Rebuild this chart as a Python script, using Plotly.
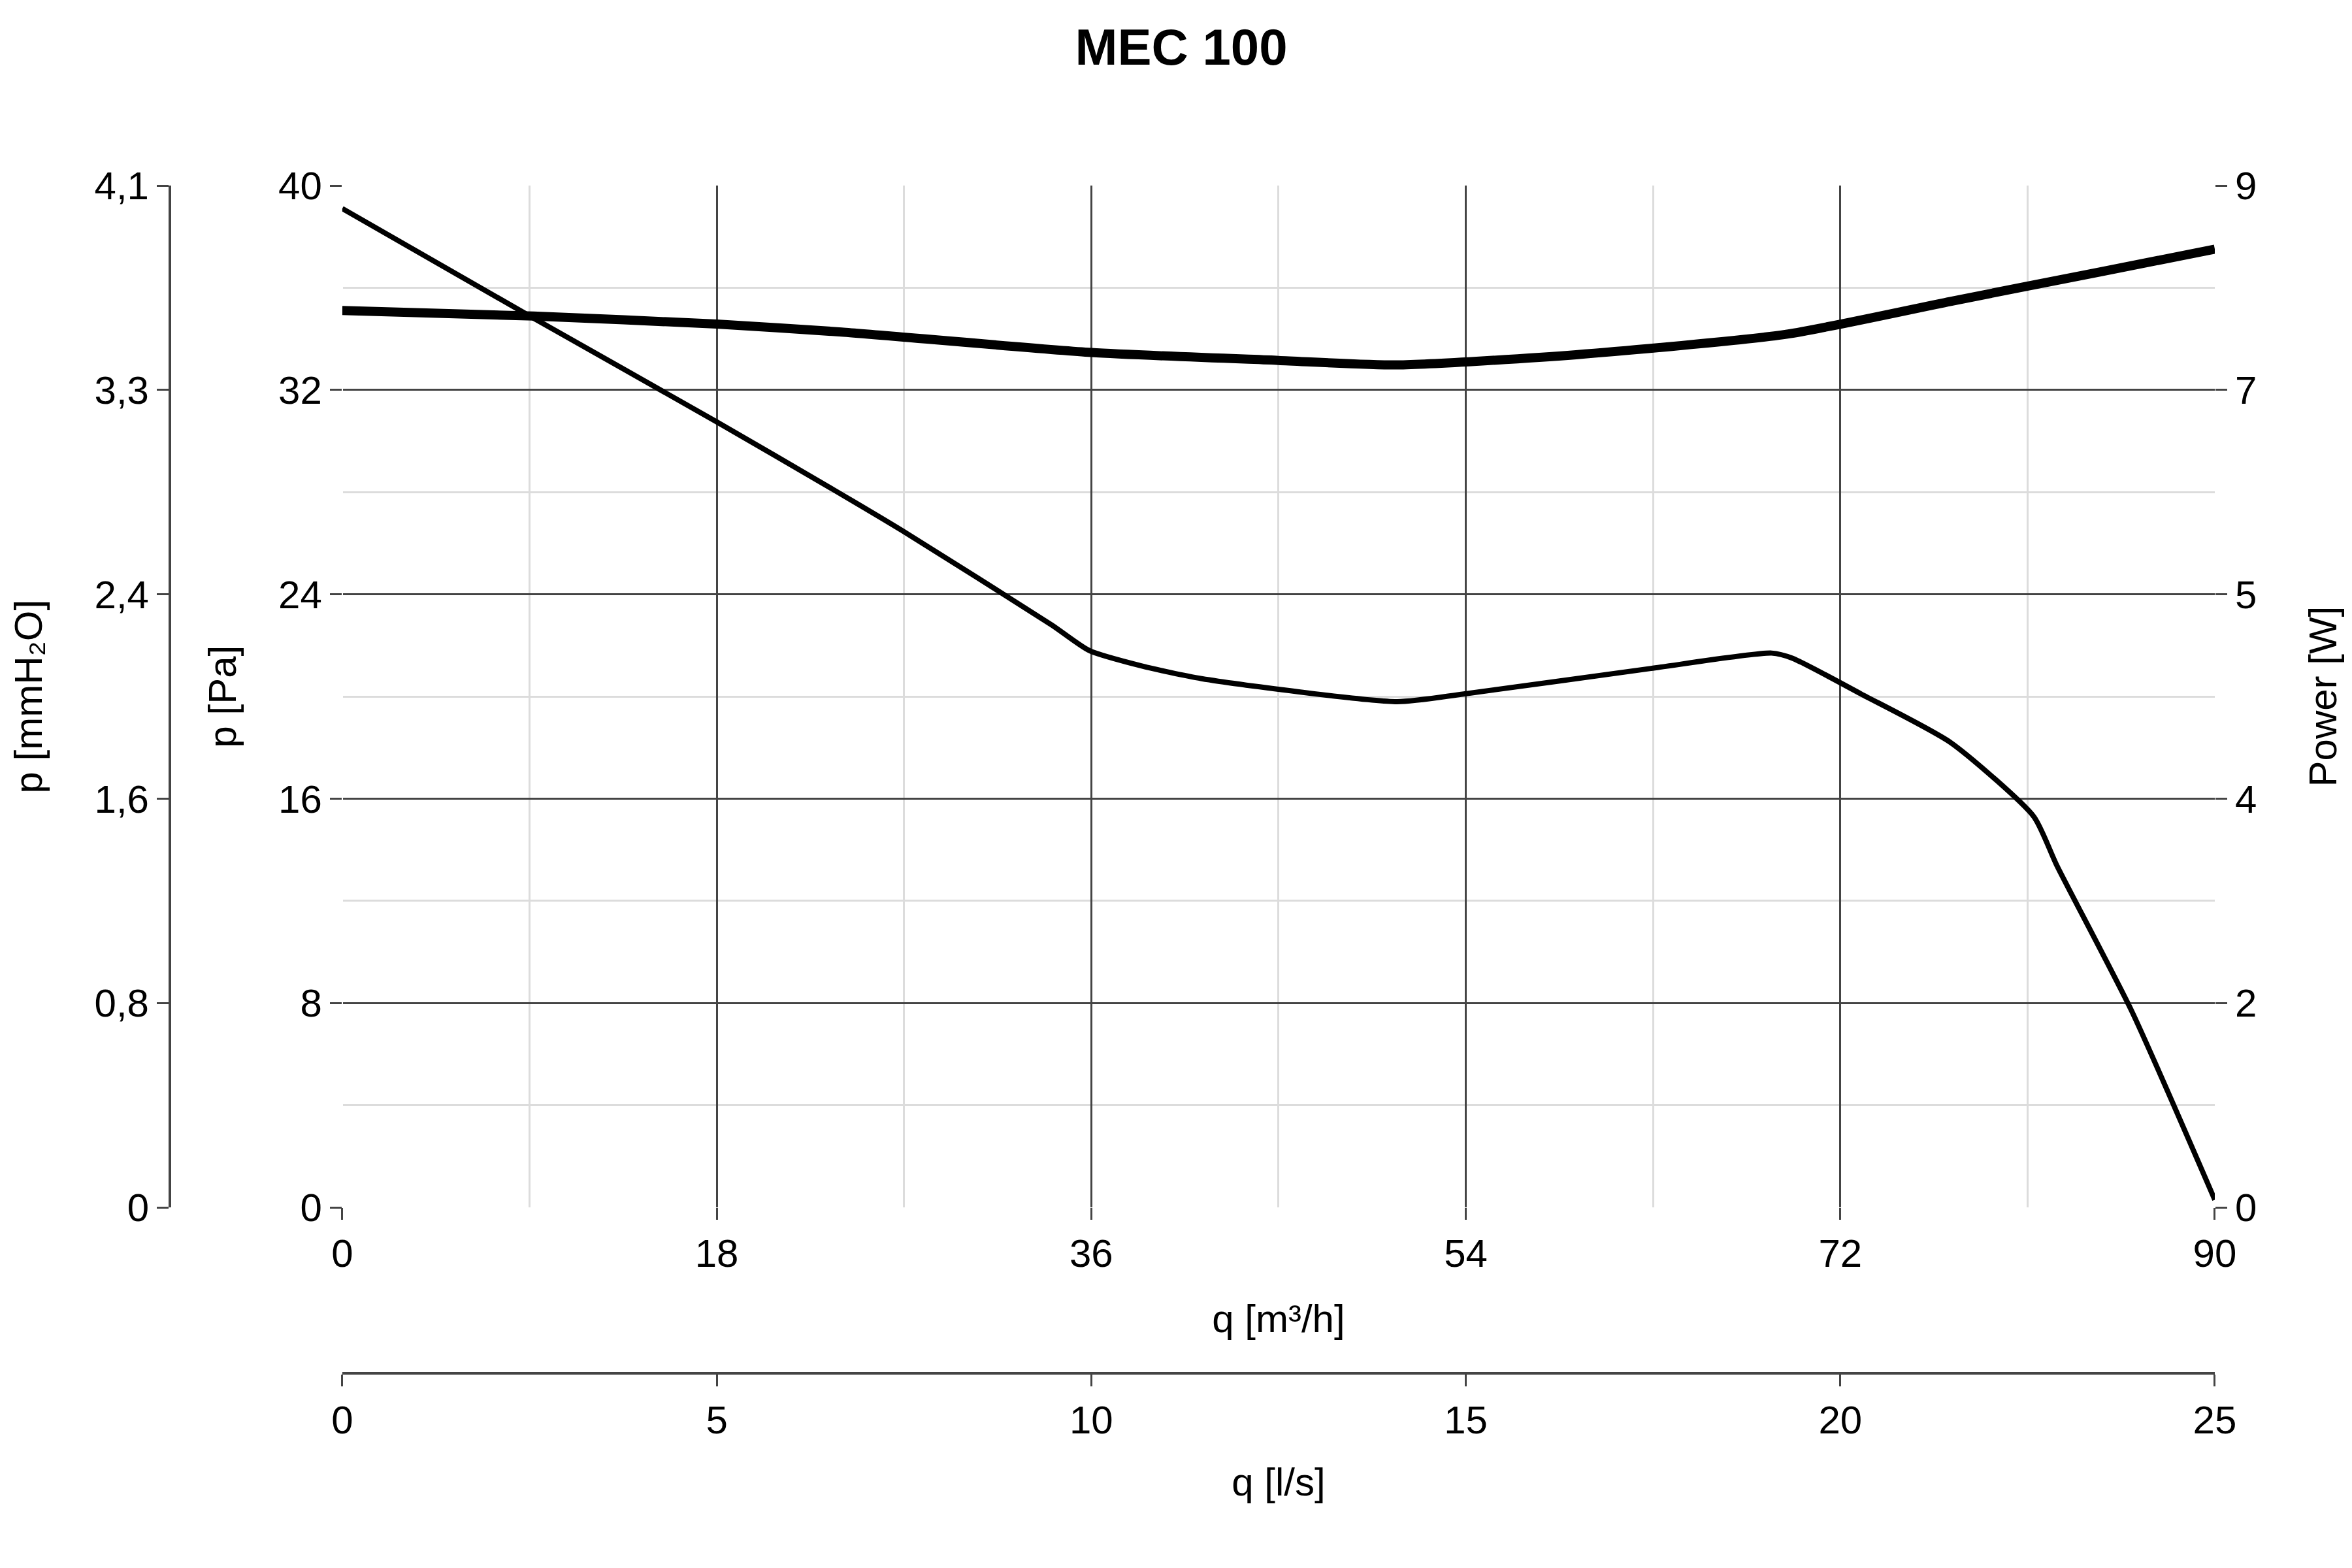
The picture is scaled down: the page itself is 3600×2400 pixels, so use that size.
import plotly.graph_objects as go

# flow in m3/h and curves
q_pressure = [0, 9, 18, 23.6, 26.9, 34.1, 35.9, 38.4, 41.3, 50.7, 53.9, 62.9, 68.7, 69.7, 73, 77.3, 81.3, 82.4, 86, 90]
pressure_pa = [39.1, 34.9, 30.75, 28.1, 26.5, 22.8, 21.8, 21.2, 20.7, 19.8, 20.1, 21.1, 21.7, 21.5, 20.1, 18.2, 15.3, 13.4, 7.7, 0.3]

q_power = [0, 9.2, 18, 24, 36, 45, 50.7, 59.3, 69.4, 77.3, 84.5, 90]
power_w = [7.9, 7.85, 7.78, 7.71, 7.53, 7.46, 7.42, 7.51, 7.69, 7.98, 8.24, 8.44]

pa_ticks = [0, 8, 16, 24, 32, 40]
mmh2o_labels = ["0", "0,8", "1,6", "2,4", "3,3", "4,1"]
w_ticks = [0, 1.8, 3.6, 5.4, 7.2, 9]
w_labels = ["0", "2", "4", "5", "7", "9"]
ls_ticks = [0, 5, 10, 15, 20, 25]

FONT = "Liberation Sans, Arial, sans-serif"
tf = dict(family=FONT, size=60, color="black")

fig = go.Figure()
fig.add_trace(go.Scatter(x=q_pressure, y=pressure_pa, mode="lines",
                         line=dict(color="black", width=8, shape="spline", smoothing=0.6),
                         showlegend=False))
fig.add_trace(go.Scatter(x=q_power, y=power_w, mode="lines", yaxis="y2",
                         line=dict(color="black", width=14, shape="spline", smoothing=0.6),
                         showlegend=False))
# dummy traces for the extra axes
fig.add_trace(go.Scatter(x=[0, 25], y=[None, None], xaxis="x2", yaxis="y", showlegend=False))
fig.add_trace(go.Scatter(x=[None], y=[None], yaxis="y3", showlegend=False))

dom_x = [0.0843, 1]
dom_y = [0.1396, 1]
tick_style = dict(ticks="outside", ticklen=18, tickwidth=3, tickcolor="#444", tickfont=tf)
fig.update_layout(
    width=3600, height=2400,
    margin=dict(l=252, r=218, t=276, b=306),
    paper_bgcolor="white", plot_bgcolor="white",
    title=dict(text="<b>MEC 100</b>", x=0.5, xanchor="center", y=0.985, yanchor="top",
               font=dict(family=FONT, size=78, color="black")),
    xaxis=dict(domain=dom_x, range=[0, 90], tickvals=[0, 18, 36, 54, 72, 90],
               showgrid=True, gridcolor="#444", gridwidth=3,
               minor=dict(dtick=9, showgrid=True, gridcolor="#dcdcdc", gridwidth=3),
               zeroline=False, showline=False, **tick_style,
               title=dict(text="q [m³/h]", font=tf, standoff=45)),
    xaxis2=dict(domain=dom_x, range=[0, 25], tickvals=ls_ticks, anchor="free", position=0,
                overlaying="x", side="bottom", showgrid=False, showline=True,
                linecolor="#444", linewidth=4, **tick_style,
                title=dict(text="q [l/s]", font=tf, standoff=40)),
    yaxis=dict(domain=dom_y, range=[0, 40], tickvals=pa_ticks,
               showgrid=True, gridcolor="#444", gridwidth=3,
               minor=dict(dtick=4, showgrid=True, gridcolor="#dcdcdc", gridwidth=3),
               zeroline=False, showline=False, **tick_style,
               title=dict(text="p [Pa]", font=tf, standoff=45)),
    yaxis2=dict(range=[0, 9], tickvals=w_ticks, ticktext=w_labels, overlaying="y",
                side="right", anchor="x", showgrid=False, zeroline=False, **tick_style,
                title=dict(text="Power [W]", font=tf, standoff=80)),
    yaxis3=dict(domain=dom_y, range=[0, 40], tickvals=pa_ticks, ticktext=mmh2o_labels,
                overlaying="y", anchor="free", position=0, side="left",
                showgrid=False, zeroline=False, showline=True, linecolor="#444", linewidth=4,
                **tick_style,
                title=dict(text="p [mmH₂O]", font=tf, standoff=60)),
)

fig.write_html("out.html")
